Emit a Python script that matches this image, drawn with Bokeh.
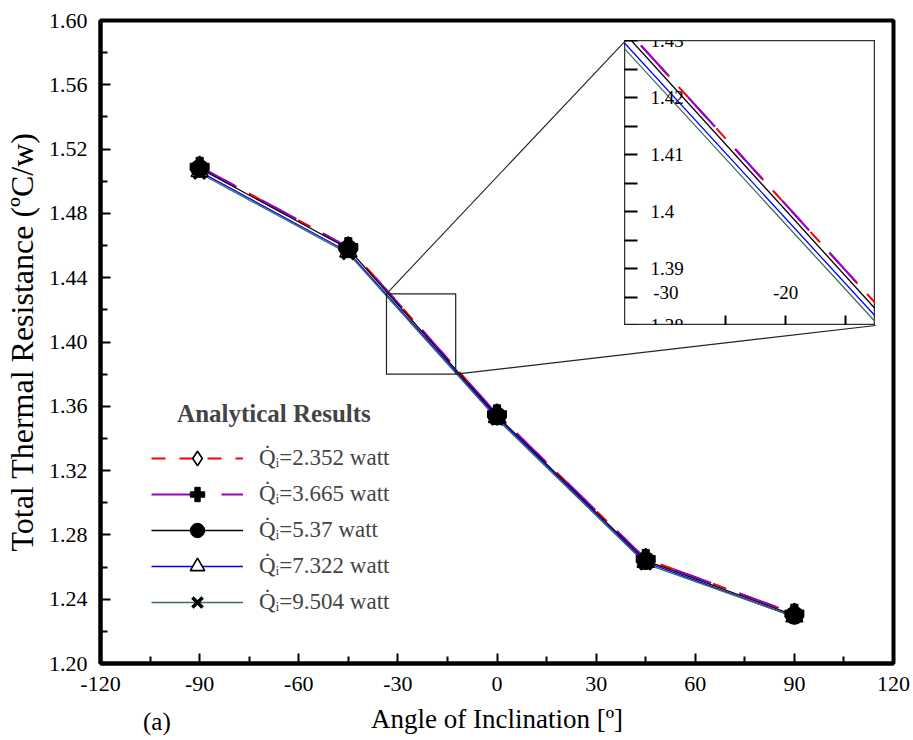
from bokeh.plotting import figure
from bokeh.models import (Range1d, FixedTicker, NumeralTickFormatter, Legend, LegendItem,
                          Label, BoxAnnotation, CustomJSTickFormatter, Div)
from bokeh.embed import file_html
from bokeh.resources import INLINE
from bokeh.core.properties import value

# ---------------- data ----------------
angles = [-90, -45, 0, 45, 90]
r_q2352 = [1.509, 1.459, 1.355, 1.265, 1.231]
r_q3665 = [1.509, 1.459, 1.355, 1.265, 1.231]
r_q537 = [1.508, 1.458, 1.354, 1.264, 1.230]
r_q7322 = [1.506, 1.456, 1.353, 1.263, 1.229]
r_q9504 = [1.505, 1.455, 1.352, 1.262, 1.229]
series_labels = ["Q̇ᵢ=2.352 watt", "Q̇ᵢ=3.665 watt", "Q̇ᵢ=5.37 watt",
                 "Q̇ᵢ=7.322 watt", "Q̇ᵢ=9.504 watt"]

x_ticks = [-120, -90, -60, -30, 0, 30, 60, 90, 120]
x_minor = [-105, -75, -45, -15, 15, 45, 75, 105]
y_ticks = [1.20, 1.24, 1.28, 1.32, 1.36, 1.40, 1.44, 1.48, 1.52, 1.56, 1.60]
y_minor = [1.22, 1.26, 1.30, 1.34, 1.38, 1.42, 1.46, 1.50, 1.54, 1.58]

inset_y_ticks = [1.38, 1.39, 1.40, 1.41, 1.42, 1.43]
inset_y_minor = [1.385, 1.395, 1.405, 1.415, 1.425]
inset_y_labels = ["1.38", "1.39", "1.4", "1.41", "1.42", "1.43"]
inset_x_ticks = [-20]
inset_x_minor = [-25, -15]
inset_x_label_pos = [-30, -20]
inset_x_labels = ["-30", "-20"]

ZOOM_X = (-33.45, -12.5)
ZOOM_Y = (1.38, 1.43)
INSET_X = (39.0, 114.6)      # inset placement in main data coordinates
INSET_Y = (1.4103, 1.5876)

FONT = "Liberation Serif"
W, H = 913, 740
BL, BR, BT, BB = 97, 20, 20, 77
X_RANGE = (-120, 120)
Y_RANGE = (1.20, 1.60)

styles = [
    dict(color="#ff0000", dash="14 14", width=2.0),
    dict(color="#9a00c8", dash="40 30", width=2.2),
    dict(color="#000000", dash="solid", width=1.3),
    dict(color="#0000ff", dash="solid", width=1.3),
    dict(color="#3d6b5c", dash="solid", width=1.3),
]
data = [r_q2352, r_q3665, r_q537, r_q7322, r_q9504]

# ---------------- main figure ----------------
p = figure(width=W, height=H, x_range=Range1d(*X_RANGE), y_range=Range1d(*Y_RANGE),
           output_backend="svg", toolbar_location=None,
           min_border_left=BL, min_border_right=BR, min_border_top=BT, min_border_bottom=BB)
p.grid.visible = False
p.outline_line_color = "black"
p.outline_line_width = 4
p.background_fill_color = "white"
p.border_fill_color = "white"

for ax in (p.xaxis[0], p.yaxis[0]):
    ax.axis_line_width = 4
    ax.major_tick_in = 10
    ax.major_tick_out = 0
    ax.minor_tick_in = 7
    ax.minor_tick_out = 0
    ax.major_tick_line_width = 2
    ax.minor_tick_line_width = 2
    ax.major_label_text_font = FONT
    ax.major_label_text_font_size = "22px"
    ax.major_label_text_color = "black"
    ax.axis_label_text_font = FONT
    ax.axis_label_text_font_style = "normal"
    ax.axis_label_text_color = "black"
    ax.major_label_standoff = 13

p.xaxis.ticker = FixedTicker(ticks=x_ticks, minor_ticks=x_minor)
p.yaxis.ticker = FixedTicker(ticks=y_ticks, minor_ticks=y_minor)
p.xaxis.formatter = NumeralTickFormatter(format="0")
p.yaxis.formatter = NumeralTickFormatter(format="0.00")
p.xaxis.axis_label = "Angle of Inclination [º]"
p.xaxis.axis_label_text_font_size = "27px"
p.xaxis.axis_label_standoff = 10
p.yaxis.axis_label = "Total Thermal Resistance (ºC/w)"
p.yaxis.axis_label_text_font_size = "32px"
p.yaxis.axis_label_standoff = 6

line_rs = []
for d, s in zip(data, styles):
    line_rs.append(p.line(angles, d, line_color=s["color"], line_dash=s["dash"],
                          line_width=s["width"]))

mk_diamond = p.scatter(angles, r_q2352, marker="diamond", size=21, fill_color="white",
                       line_color="black", line_width=1.6)
mk_triangle = p.scatter(angles, r_q7322, marker="triangle", size=17, fill_color="white",
                        line_color="black", line_width=1.6)
mk_plus = p.scatter(angles, r_q3665, marker="plus", size=19, fill_color="black",
                    line_color="black")
mk_x = p.scatter(angles, r_q9504, marker="x", size=16, line_color="black", line_width=3.5)
mk_circle = p.scatter(angles, r_q537, marker="circle", size=18, fill_color="black",
                      line_color="black")
markers = [mk_diamond, mk_plus, mk_circle, mk_triangle, mk_x]

items = [LegendItem(label=lab, renderers=[lr, mr])
         for lab, lr, mr in zip(series_labels, line_rs, markers)]
legend = Legend(items=items, location=(51, 43), glyph_width=92, glyph_height=36,
                label_height=36, spacing=0, label_standoff=16, padding=0, margin=0,
                label_text_font=FONT, label_text_font_size="23px",
                background_fill_alpha=0, border_line_alpha=0)
p.add_layout(legend)

p.add_layout(Label(x=-67.5, y=1.3555, text="Analytical Results", text_font=FONT,
                   text_font_size="25px", text_font_style="bold", text_align="center",
                   text_baseline="middle"))

# zoom box and connectors
p.add_layout(BoxAnnotation(left=ZOOM_X[0], right=ZOOM_X[1], bottom=ZOOM_Y[0], top=ZOOM_Y[1],
                           fill_alpha=0, line_color="#222222", line_alpha=1.0,
                           line_width=1.2))
p.segment(x0=[ZOOM_X[0], ZOOM_X[1]], y0=[ZOOM_Y[1], ZOOM_Y[0]],
          x1=[INSET_X[0], INSET_X[1]], y1=[INSET_Y[1], INSET_Y[0]],
          line_color="#222222", line_width=1.1)

# ---------------- inset figure (separate root, placed over the main plot) ----------------
fw = W - BL - BR
fh = H - BT - BB
def px_x(v):
    return BL + (v - X_RANGE[0]) / (X_RANGE[1] - X_RANGE[0]) * fw
def px_y(v):
    return BT + (Y_RANGE[1] - v) / (Y_RANGE[1] - Y_RANGE[0]) * fh

ins_left = round(px_x(INSET_X[0]))
ins_right = round(px_x(INSET_X[1]))
ins_top = round(px_y(INSET_Y[1]))
ins_bottom = round(px_y(INSET_Y[0]))
iw = ins_right - ins_left
ih = ins_bottom - ins_top

ins = figure(width=iw, height=ih,
             x_range=Range1d(*ZOOM_X), y_range=Range1d(*ZOOM_Y),
             output_backend="svg", toolbar_location=None,
             min_border_left=0, min_border_right=0, min_border_top=0, min_border_bottom=0,
             styles={"position": "absolute", "left": f"{ins_left}px", "top": f"{ins_top}px",
                     "width": f"{iw}px", "height": f"{ih}px"})
ins.grid.visible = False
ins.outline_line_color = "#333333"
ins.outline_line_width = 1.5
ins.xaxis.ticker = FixedTicker(ticks=inset_x_ticks, minor_ticks=inset_x_minor)
ins.yaxis.ticker = FixedTicker(ticks=inset_y_ticks, minor_ticks=inset_y_minor)
for ax, ln in ((ins.xaxis[0], 10), (ins.yaxis[0], 13)):
    ax.axis_line_color = None
    ax.formatter = CustomJSTickFormatter(code="return ''")
    ax.major_label_text_font_size = "1px"
    ax.major_label_standoff = 0
    ax.major_tick_in = ln
    ax.major_tick_out = 0
    ax.minor_tick_in = ln
    ax.minor_tick_out = 0
    ax.major_tick_line_width = 2
    ax.minor_tick_line_width = 2

for d, s in zip(data, styles):
    ins.line(angles, d, line_color=s["color"], line_dash=s["dash"], line_width=s["width"])

ins.text(x=[ZOOM_X[0]] * len(inset_y_ticks), y=inset_y_ticks, text=inset_y_labels,
         x_offset=26, text_align="left", text_baseline="middle",
         text_font=value(FONT), text_font_size="19px", text_color="black")
ins.text(x=inset_x_label_pos, y=[ZOOM_Y[0]] * len(inset_x_label_pos), text=inset_x_labels,
         y_offset=-27, text_align="center", text_baseline="bottom",
         text_font=value(FONT), text_font_size="19px", text_color="black")

panel_tag = Div(text="(a)", width=40, height=30,
                styles={"position": "absolute", "left": "138px", "top": "702px",
                        "font-family": FONT, "font-size": "25px", "color": "black",
                        "line-height": "30px"})

open("out.html", "w").write(file_html([p, ins, panel_tag], INLINE))
